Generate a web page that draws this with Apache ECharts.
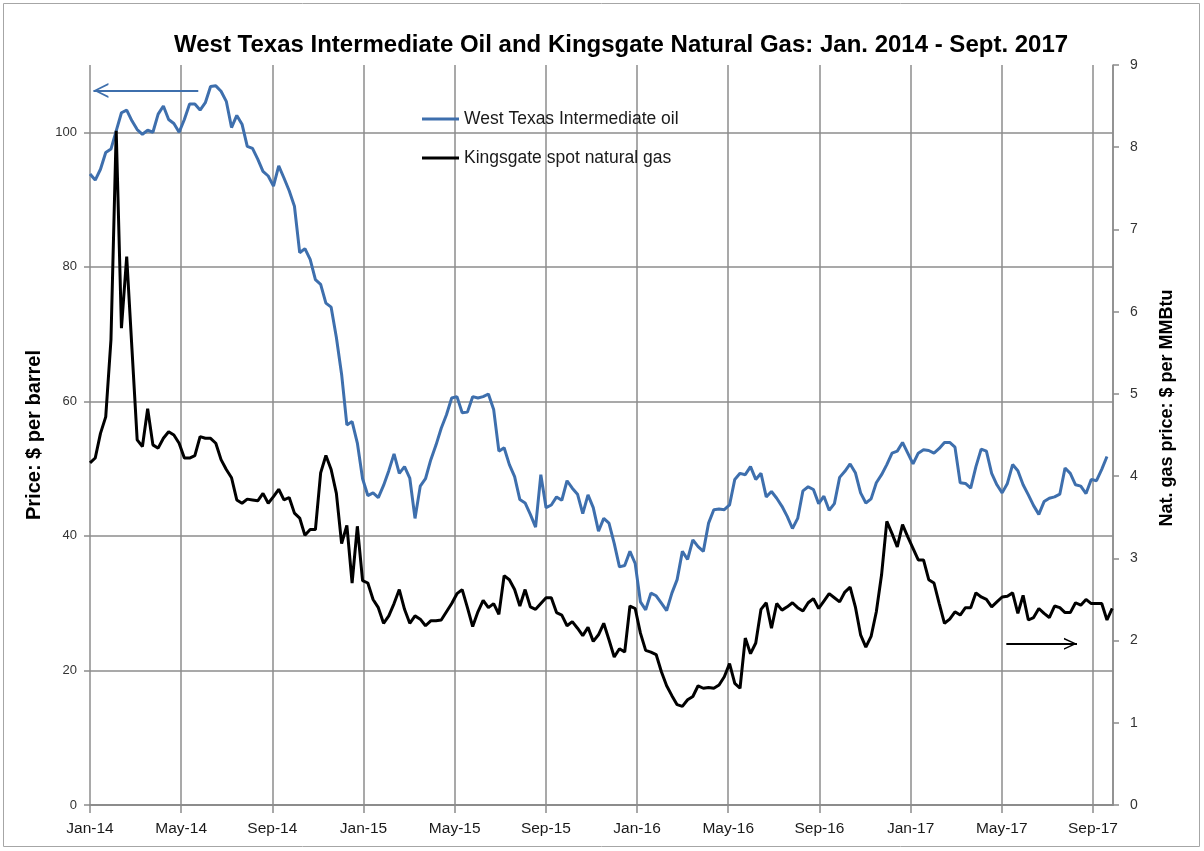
<!DOCTYPE html>
<html>
<head>
<meta charset="utf-8">
<script src="https://cdn.jsdelivr.net/npm/echarts@6/dist/echarts.min.js"></script>
<style>
html,body{margin:0;padding:0;background:#fff;}
#chart{width:1204px;height:851px;}
</style>
</head>
<body>
<div id="chart"></div>
<script>
// Weekly series, first week = Jan 2014
const wti = [93.8, 92.9, 94.5, 97.0, 97.5, 100.2, 102.9, 103.3, 101.7, 100.4,
 99.7, 100.3, 100.0, 102.7, 103.9, 101.9, 101.3, 100.0, 101.9, 104.2,
 104.2, 103.3, 104.4, 106.8, 106.9, 106.1, 104.6, 100.7, 102.5, 101.2,
 97.9, 97.6, 96.0, 94.2, 93.5, 92.0, 95.0, 93.2, 91.3, 89.0,
 82.1, 82.7, 81.1, 78.1, 77.4, 74.6, 74.0, 69.5, 64.0, 56.5,
 57.0, 53.8, 48.5, 46.0, 46.4, 45.7, 47.5, 49.7, 52.2, 49.3,
 50.3, 48.6, 42.6, 47.4, 48.5, 51.3, 53.5, 56.0, 58.0, 60.5,
 60.7, 58.3, 58.4, 60.7, 60.5, 60.7, 61.1, 58.8, 52.6, 53.1,
 50.6, 48.8, 45.4, 44.9, 43.2, 41.3, 49.1, 44.2, 44.6, 45.8,
 45.3, 48.2, 47.1, 46.2, 43.3, 46.1, 44.2, 40.7, 42.6, 41.9,
 38.9, 35.4, 35.6, 37.7, 35.9, 30.2, 29.0, 31.5, 31.1, 30.0,
 28.9, 31.5, 33.5, 37.7, 36.5, 39.4, 38.4, 37.7, 41.9, 43.9,
 44.0, 43.9, 44.6, 48.4, 49.3, 49.1, 50.3, 48.4, 49.3, 45.8,
 46.6, 45.6, 44.4, 42.9, 41.1, 42.6, 46.7, 47.3, 46.9, 44.8,
 45.9, 43.8, 44.8, 48.7, 49.6, 50.7, 49.4, 46.4, 44.9, 45.5,
 47.9, 49.1, 50.6, 52.3, 52.6, 53.9, 52.3, 50.7, 52.3, 52.8,
 52.7, 52.3, 53.0, 53.9, 53.9, 53.2, 47.9, 47.8, 47.1, 50.3,
 52.9, 52.6, 49.3, 47.6, 46.4, 47.8, 50.6, 49.7, 47.6, 46.1,
 44.5, 43.2, 45.1, 45.6, 45.8, 46.2, 50.1, 49.3, 47.6, 47.4,
 46.3, 48.4, 48.2, 49.9, 51.8];

const gas = [4.16, 4.22, 4.52, 4.72, 5.66, 8.20, 5.80, 6.67, 5.55, 4.44,
 4.36, 4.82, 4.38, 4.34, 4.46, 4.54, 4.50, 4.40, 4.22, 4.22,
 4.25, 4.48, 4.46, 4.46, 4.40, 4.20, 4.08, 3.98, 3.71, 3.67,
 3.72, 3.71, 3.70, 3.79, 3.67, 3.75, 3.84, 3.71, 3.74, 3.55,
 3.49, 3.28, 3.35, 3.35, 4.04, 4.25, 4.08, 3.79, 3.18, 3.40,
 2.70, 3.39, 2.73, 2.70, 2.50, 2.40, 2.21, 2.30, 2.45, 2.62,
 2.38, 2.21, 2.30, 2.26, 2.18, 2.24, 2.24, 2.25, 2.35, 2.45,
 2.57, 2.62, 2.40, 2.17, 2.35, 2.49, 2.40, 2.45, 2.32, 2.79,
 2.74, 2.62, 2.42, 2.62, 2.41, 2.38, 2.45, 2.52, 2.52, 2.34,
 2.31, 2.18, 2.23, 2.15, 2.06, 2.16, 1.99, 2.07, 2.21, 2.01,
 1.80, 1.90, 1.86, 2.42, 2.39, 2.09, 1.88, 1.86, 1.83, 1.62,
 1.45, 1.33, 1.22, 1.20, 1.28, 1.32, 1.45, 1.42, 1.43, 1.42,
 1.46, 1.56, 1.72, 1.48, 1.42, 2.03, 1.84, 1.97, 2.38, 2.46,
 2.15, 2.45, 2.37, 2.41, 2.46, 2.40, 2.36, 2.46, 2.51, 2.39,
 2.48, 2.57, 2.52, 2.47, 2.59, 2.65, 2.41, 2.07, 1.92, 2.05,
 2.35, 2.80, 3.45, 3.30, 3.14, 3.41, 3.26, 3.12, 2.98, 2.98,
 2.74, 2.70, 2.45, 2.21, 2.26, 2.35, 2.31, 2.40, 2.40, 2.58,
 2.53, 2.50, 2.41, 2.47, 2.53, 2.54, 2.58, 2.33, 2.55, 2.25,
 2.28, 2.39, 2.33, 2.28, 2.42, 2.40, 2.34, 2.34, 2.46, 2.43,
 2.50, 2.45, 2.45, 2.45, 2.25, 2.39];

const tickLabels = ['Jan-14','May-14','Sep-14','Jan-15','May-15','Sep-15','Jan-16','May-16','Sep-16','Jan-17','May-17','Sep-17'];
const seriesNames = ['West Texas Intermediate oil', 'Kingsgate spot natural gas'];
// annotation arrows (x in months since Jan-14, y in axis units)
const oilArrow = [[4.75, 106.2], [0.15, 106.2]];
const gasArrow = [[40.2, 1.96], [43.3, 1.96]];

const WEEK = 7 / 30.4375; // one week expressed in months
const toPts = arr => arr.map((v, i) => [i * WEEK, v]);

const chevron = 'path://M6,0 L6.01,0 L6,0.01 Z M0,24 L6,12 L12,24 L10.4,24 L6,15 L1.6,24 Z';
const legendLine = 'path://M0,0 L0.01,0 L0,0.01 Z M0,14 L0.01,14 L0,13.99 Z M0,5.5 L38,5.5 L38,8.5 L0,8.5 Z';
const gridColor = '#8c8c8c';
const FONT = 'Liberation Sans, Arial, sans-serif';

const chart = echarts.init(document.getElementById('chart'));
chart.setOption({
  backgroundColor: '#ffffff',
  animation: false,
  graphic: [{
    type: 'rect', silent: true, z: -10,
    shape: { x: 3.5, y: 3.5, width: 1196, height: 843 },
    style: { fill: 'none', stroke: '#a6a6a6', lineWidth: 1 }
  }],
  title: {
    text: 'West Texas Intermediate Oil and Kingsgate Natural Gas: Jan. 2014 - Sept. 2017',
    left: 169,
    top: 28,
    textStyle: { fontFamily: FONT, fontWeight: 'bold', fontSize: 24, color: '#000' }
  },
  legend: {
    data: seriesNames,
    orient: 'vertical',
    left: 417,
    top: 105,
    icon: legendLine,
    itemWidth: 37,
    itemHeight: 14,
    itemGap: 21,
    textStyle: { fontFamily: FONT, fontSize: 17.5, color: '#1a1a1a' }
  },
  grid: { left: 90, right: 91, top: 65, bottom: 46, containLabel: false },
  xAxis: {
    type: 'value',
    min: 0,
    max: 44.88,
    interval: 4,
    axisLine: { show: true, lineStyle: { color: gridColor, width: 2 } },
    axisTick: { show: true, length: 8, lineStyle: { color: gridColor, width: 1.5 } },
    axisLabel: {
      margin: 16,
      fontFamily: FONT,
      fontSize: 15.5,
      color: '#1a1a1a',
      showMaxLabel: false,
      formatter: v => (Math.abs(v % 4) < 1e-6 ? (tickLabels[Math.round(v / 4)] || '') : '')
    },
    splitLine: { show: true, lineStyle: { color: gridColor, width: 1.5 } }
  },
  yAxis: [
    {
      type: 'value',
      min: 0,
      max: 110,
      interval: 20,
      name: 'Price: $ per barrel',
      nameLocation: 'middle',
      nameGap: 44,
      nameRotate: 90,
      nameTextStyle: { fontFamily: FONT, fontWeight: 'bold', fontSize: 20, color: '#000' },
      axisLine: { show: false },
      axisTick: { show: true, length: 6, lineStyle: { color: gridColor, width: 1.5 } },
      axisLabel: {
        margin: 13,
        fontFamily: FONT,
        fontSize: 13,
        color: '#333',
        showMaxLabel: false,
        formatter: v => (v % 20 === 0 ? String(v) : '')
      },
      splitLine: { show: true, showMaxLine: false, lineStyle: { color: gridColor, width: 1.5 } }
    },
    {
      type: 'value',
      min: 0,
      max: 9,
      interval: 1,
      position: 'right',
      name: 'Nat. gas price: $ per MMBtu',
      nameLocation: 'middle',
      nameGap: 45,
      nameRotate: 90,
      nameTextStyle: { fontFamily: FONT, fontWeight: 'bold', fontSize: 18, color: '#000', padding: [0, 0, 0, 54] },
      axisLine: { show: true, lineStyle: { color: gridColor, width: 1.5 } },
      axisTick: { show: true, length: 6, lineStyle: { color: gridColor, width: 1.5 } },
      axisLabel: { margin: 17, fontFamily: FONT, fontSize: 14, color: '#333' },
      splitLine: { show: false }
    }
  ],
  series: [
    {
      name: seriesNames[0],
      type: 'line',
      yAxisIndex: 0,
      data: toPts(wti),
      symbol: 'none',
      showSymbol: false,
      lineStyle: { color: '#3E6FAD', width: 3 },
      itemStyle: { color: '#3E6FAD' },
      z: 3,
      markLine: {
        silent: true,
        symbol: ['none', chevron],
        symbolSize: [15, 30],
        label: { show: false },
        lineStyle: { color: '#3E6FAD', width: 2, type: 'solid' },
        data: [[{ coord: oilArrow[0] }, { coord: oilArrow[1] }]]
      }
    },
    {
      name: seriesNames[1],
      type: 'line',
      yAxisIndex: 1,
      data: toPts(gas),
      symbol: 'none',
      showSymbol: false,
      lineStyle: { color: '#000000', width: 3 },
      itemStyle: { color: '#000000' },
      z: 4,
      markLine: {
        silent: true,
        symbol: ['none', chevron],
        symbolSize: [12, 26],
        label: { show: false },
        lineStyle: { color: '#000000', width: 2, type: 'solid' },
        data: [[{ coord: gasArrow[0] }, { coord: gasArrow[1] }]]
      }
    }
  ]
});
</script>
</body>
</html>
